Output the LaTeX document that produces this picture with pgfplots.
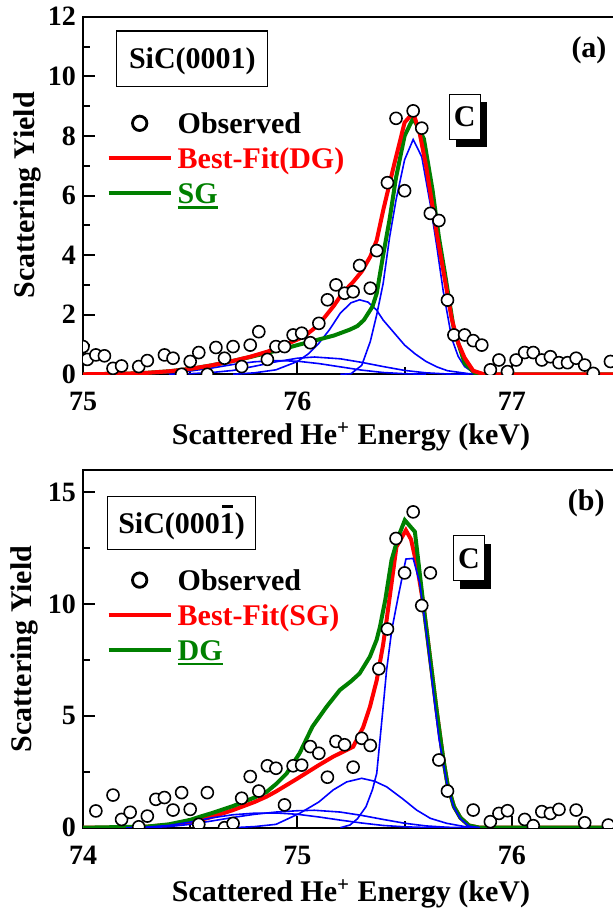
\documentclass[border=0pt]{standalone}
\usepackage{fontspec}
\setmainfont{Liberation Serif}
\usepackage{pgfplots}
\pgfplotsset{compat=1.18}
\usetikzlibrary{shadows}

\definecolor{sgreen}{RGB}{0,128,0}
\definecolor{fblue}{RGB}{0,0,255}

% thick underline and bar-over-one, as in the original figure
\newcommand\ul[1]{\setbox0\hbox{#1}\rlap{\rule[-2.6bp]{\wd0}{1.3bp}}\box0}
\newcommand\barone{\rlap{\hspace{1.2bp}\raisebox{12.6bp}{\rule{5.2bp}{1.2bp}}}1}

\tikzset{
  lbl/.style={font=\fontsize{15bp}{18bp}\selectfont\bfseries},
  samplebox/.style={lbl, draw, line width=0.6bp, fill=white, inner sep=0pt,
    text height=12bp, text depth=2bp},
  peakbox/.style={samplebox, minimum width=15.5bp, minimum height=22.5bp,
    drop shadow={shadow xshift=3.5bp, shadow yshift=-4bp, fill=black, opacity=1}},
}

\pgfplotsset{
  panel/.style={
    scale only axis, width=268bp, height=178.8bp,
    axis line style={line width=1.1bp},
    tick style={black, line width=1bp},
    major tick length=6bp, minor tick length=3.5bp,
    tick align=inside, tick pos=left,
    minor x tick num=1, minor y tick num=1,
    /pgf/number format/assume math mode=true,
    tick label style={font=\fontsize{14bp}{16bp}\selectfont\bfseries},
    xticklabel style={yshift=-5.5bp},
    label style={font=\fontsize{15bp}{18bp}\selectfont\bfseries},
    ylabel={Scattering Yield},
    xlabel={Scattered He\textsuperscript{+} Energy (keV)},
    clip marker paths=true,
    legend cell align=left,
    legend image code/.code={\draw[mark repeat=2,mark phase=2,##1]
      plot coordinates {(0bp,0bp) (15.5bp,0bp) (31bp,0bp)};},
    legend style={draw=none, fill=none, inner sep=0pt, outer sep=0pt,
      row sep=1.5bp, column sep=2.5bp,
      font=\fontsize{15bp}{18bp}\selectfont\bfseries,
      nodes={inner sep=0pt, text height=13bp, text depth=3bp}},
  },
  obs/.style={only marks, mark=*, mark size=3bp,
    mark options={fill=white, draw=black, line width=0.8bp}},
  obsleg/.style={only marks, mark=*, mark size=3.6bp,
    mark options={fill=white, draw=black, line width=1.4bp}},
  fit/.style={line width=2bp, no markers},
  comp/.style={fblue, line width=0.8bp, no markers},
}

\begin{document}
\begin{tikzpicture}

% ---------------- (a) SiC(0001) ----------------
\begin{axis}[panel,
    at={(0,0)}, anchor=south west,
    xmin=75, xmax=77.5, ymin=0, ymax=12,
    xtick={75,76,77}, ytick={0,2,...,12},
    xlabel style={at={(axis description cs:0.5,-0.1745)}, anchor=center},
    ylabel style={at={(axis description cs:-0.1045,0.5)}, anchor=center},
    legend style={at={(rel axis cs:0.0442,0.7466)}, anchor=north west},
  ]
  \addlegendimage{obsleg}
  \addlegendentry{Observed}
  \addlegendimage{red, line width=2bp}
  \addlegendentry{\textcolor{red}{Best-Fit(DG)}}
  \addlegendimage{sgreen, line width=2bp}
  \addlegendentry{\textcolor{sgreen}{\ul{SG}}}

  % components
  \addplot[comp, forget plot] coordinates {
    (75.20,0)(75.30,0.02)(75.40,0.05)(75.50,0.11)(75.60,0.21)(75.70,0.33)
    (75.80,0.42)(75.90,0.46)(76.00,0.44)(76.10,0.36)(76.20,0.25)(76.30,0.14)
    (76.40,0.06)(76.50,0.02)(76.60,0)};
  \addplot[comp, forget plot] coordinates {
    (75.40,0)(75.50,0.02)(75.60,0.06)(75.70,0.13)(75.80,0.27)(75.90,0.42)
    (76.00,0.54)(76.08,0.58)(76.20,0.52)(76.30,0.40)(76.40,0.26)(76.50,0.13)
    (76.60,0.05)(76.70,0.01)(76.80,0)};
  \addplot[comp, forget plot] coordinates {
    (75.70,0)(75.80,0.05)(75.90,0.15)(76.00,0.43)(76.05,0.68)(76.10,1.04)
    (76.15,1.50)(76.20,2.05)(76.25,2.40)(76.29,2.50)(76.33,2.42)(76.37,2.15)
    (76.40,1.82)(76.45,1.40)(76.50,0.98)(76.55,0.68)(76.60,0.43)(76.65,0.25)
    (76.70,0.12)(76.80,0.02)(76.90,0)};
  \addplot[comp, forget plot] coordinates {
    (76.20,0)(76.25,0.02)(76.30,0.30)(76.34,1.10)(76.37,2.00)(76.40,3.05)
    (76.43,4.60)(76.46,5.85)(76.50,7.20)(76.54,7.88)(76.58,7.30)(76.62,5.70)
    (76.65,4.30)(76.68,2.80)(76.72,1.20)(76.75,0.60)(76.78,0.26)(76.82,0.06)
    (76.90,0)};

  % SG
  \addplot[fit, sgreen, forget plot] coordinates {
    (75.00,0)(75.20,0.02)(75.30,0.05)(75.40,0.10)(75.50,0.18)(75.60,0.30)
    (75.70,0.45)(75.78,0.58)(75.86,0.72)(75.93,0.84)(76.00,0.98)(76.09,1.15)
    (76.17,1.30)(76.245,1.50)(76.28,1.62)(76.31,1.82)(76.35,2.27)(76.37,2.72)
    (76.40,4.00)(76.43,5.20)(76.46,6.60)(76.50,8.00)(76.54,8.60)(76.59,7.90)
    (76.63,6.20)(76.66,4.60)(76.69,3.30)(76.73,1.50)(76.78,0.37)(76.83,0.03)
    (76.88,0)(77.50,0)};
  % Best-Fit (DG)
  \addplot[fit, red, forget plot] coordinates {
    (75.00,0)(75.20,0.02)(75.30,0.05)(75.40,0.10)(75.50,0.18)(75.60,0.30)
    (75.70,0.45)(75.78,0.59)(75.86,0.76)(75.93,0.95)(76.03,1.26)(76.08,1.55)
    (76.12,1.85)(76.17,2.30)(76.21,2.72)(76.26,3.10)(76.30,3.45)(76.34,3.95)
    (76.37,4.50)(76.40,5.50)(76.45,7.00)(76.50,8.45)(76.54,8.78)(76.57,8.10)
    (76.60,7.00)(76.62,6.10)(76.65,4.73)(76.68,3.50)(76.72,1.85)(76.75,1.05)
    (76.78,0.55)(76.82,0.12)(76.87,0)(77.50,0)};

  % observed
  \addplot[obs, forget plot] coordinates {
    (75.00,0.93)(75.02,0.50)(75.06,0.65)(75.10,0.62)(75.14,0.20)(75.18,0.28)
    (75.26,0.26)(75.30,0.46)(75.38,0.65)(75.42,0.54)(75.46,0.00)(75.50,0.43)
    (75.54,0.73)(75.58,0.00)(75.62,0.90)(75.66,0.54)(75.70,0.93)(75.74,0.26)
    (75.78,0.98)(75.82,1.43)(75.86,0.50)(75.90,0.93)(75.94,0.93)(75.98,1.32)
    (76.02,1.38)(76.06,1.06)(76.10,1.71)(76.14,2.50)(76.18,3.00)(76.22,2.72)
    (76.26,2.77)(76.29,3.65)(76.34,2.89)(76.37,4.15)(76.42,6.43)(76.46,8.59)
    (76.50,6.16)(76.54,8.84)(76.58,8.26)(76.62,5.40)(76.66,5.16)(76.70,2.49)
    (76.73,1.32)(76.78,1.32)(76.82,1.13)(76.86,0.98)(76.90,0.15)(76.94,0.48)
    (76.98,0.09)(77.02,0.48)(77.06,0.73)(77.10,0.73)(77.14,0.48)(77.18,0.59)
    (77.22,0.39)(77.26,0.39)(77.30,0.54)(77.34,0.31)(77.38,0.03)(77.46,0.43)};

  \node[samplebox, minimum width=75.5bp, minimum height=27.8bp]
    at (axis cs:75.51,10.59) {SiC(0001)};
  \node[peakbox] at (axis cs:76.78,8.64) {C};
  \node[lbl] at (axis cs:77.36,10.88) {(a)};
\end{axis}

% ---------------- (b) SiC(000-1) ----------------
\begin{axis}[panel,
    at={(0,-226.7bp)}, anchor=south west,
    xmin=74, xmax=76.5, ymin=0, ymax=16,
    xtick={74,75,76}, ytick={0,5,10,15},
    xlabel style={at={(axis description cs:0.5,-0.185)}, anchor=center},
    ylabel style={at={(axis description cs:-0.109,0.5)}, anchor=center},
    legend style={at={(rel axis cs:0.0442,0.7371)}, anchor=north west},
  ]
  \addlegendimage{obsleg}
  \addlegendentry{Observed}
  \addlegendimage{red, line width=2bp}
  \addlegendentry{\textcolor{red}{Best-Fit(SG)}}
  \addlegendimage{sgreen, line width=2bp}
  \addlegendentry{\textcolor{sgreen}{\ul{DG}}}

  % Best-Fit (SG)
  \addplot[fit, red, forget plot] coordinates {
    (74.00,0)(74.20,0.01)(74.30,0.05)(74.40,0.13)(74.50,0.25)(74.545,0.34)
    (74.60,0.48)(74.70,0.79)(74.80,1.15)(74.856,1.39)(74.90,1.62)(75.00,2.20)
    (75.10,2.80)(75.167,3.18)(75.26,3.62)(75.307,4.50)(75.338,5.40)(75.37,6.60)
    (75.40,8.20)(75.416,9.29)(75.44,11.00)(75.462,12.57)(75.506,13.31)
    (75.53,12.90)(75.56,11.60)(75.587,10.03)(75.626,7.05)(75.65,5.20)
    (75.68,3.10)(75.70,1.95)(75.73,0.95)(75.76,0.45)(75.80,0.10)(75.85,0)
    (76.50,0)};
  % DG
  \addplot[fit, sgreen, forget plot] coordinates {
    (74.00,0)(74.30,0.05)(74.40,0.15)(74.50,0.35)(74.545,0.49)(74.60,0.65)
    (74.70,0.97)(74.80,1.35)(74.856,1.60)(74.90,1.95)(74.95,2.43)(75.01,3.33)
    (75.07,4.52)(75.136,5.41)(75.198,6.16)(75.25,6.55)(75.29,6.90)(75.338,7.65)
    (75.369,8.39)(75.385,8.99)(75.41,10.20)(75.439,11.97)(75.47,13.00)
    (75.501,13.76)(75.548,13.24)(75.587,10.03)(75.626,7.05)(75.65,5.20)
    (75.68,3.10)(75.70,1.95)(75.73,0.95)(75.76,0.45)(75.80,0.10)(75.85,0)
    (76.50,0)};

  % components
  \addplot[comp, forget plot] coordinates {
    (74.20,0)(74.30,0.03)(74.40,0.10)(74.50,0.25)(74.60,0.44)(74.70,0.58)
    (74.80,0.65)(74.90,0.66)(75.00,0.60)(75.10,0.48)(75.20,0.34)(75.30,0.21)
    (75.40,0.10)(75.50,0.04)(75.60,0.01)(75.70,0)};
  \addplot[comp, forget plot] coordinates {
    (74.30,0)(74.40,0.05)(74.50,0.15)(74.60,0.30)(74.70,0.46)(74.80,0.60)
    (74.90,0.70)(75.00,0.76)(75.08,0.78)(75.20,0.70)(75.30,0.55)(75.40,0.37)
    (75.50,0.20)(75.60,0.08)(75.70,0.02)(75.80,0)};
  \addplot[comp, forget plot] coordinates {
    (74.70,0)(74.80,0.05)(74.90,0.15)(75.01,0.64)(75.10,1.15)(75.167,1.69)
    (75.23,2.05)(75.30,2.21)(75.36,2.08)(75.416,1.83)(75.49,1.30)(75.556,0.79)
    (75.62,0.42)(75.695,0.20)(75.78,0.05)(75.85,0)};
  \addplot[comp, forget plot] coordinates {
    (75.20,0)(75.245,0.12)(75.28,0.40)(75.32,0.94)(75.35,1.70)(75.37,2.43)
    (75.40,5.41)(75.416,7.05)(75.44,8.84)(75.47,10.33)(75.506,12.02)
    (75.54,12.05)(75.571,10.93)(75.60,8.84)(75.63,6.40)(75.66,4.00)
    (75.70,1.85)(75.73,0.90)(75.76,0.40)(75.80,0.07)(75.85,0)};

  % observed
  \addplot[obs, forget plot] coordinates {
    (74.06,0.75)(74.14,1.46)(74.18,0.37)(74.22,0.69)(74.26,0.04)(74.30,0.52)
    (74.34,1.27)(74.38,1.35)(74.42,0.79)(74.46,1.57)(74.50,0.82)(74.54,0.15)
    (74.58,1.57)(74.66,0.00)(74.70,0.19)(74.74,1.32)(74.78,2.29)(74.82,1.64)
    (74.86,2.77)(74.90,2.66)(74.94,1.02)(74.98,2.77)(75.02,2.80)(75.06,3.63)
    (75.10,3.33)(75.14,2.26)(75.18,3.86)(75.22,3.71)(75.26,2.71)(75.30,4.00)
    (75.34,3.68)(75.38,7.11)(75.42,8.89)(75.46,12.94)(75.50,11.40)(75.54,14.13)
    (75.58,9.94)(75.62,11.40)(75.66,3.03)(75.70,1.64)(75.82,0.79)(75.90,0.27)
    (75.94,0.64)(75.98,0.76)(76.06,0.37)(76.10,0.09)(76.14,0.72)(76.18,0.64)
    (76.22,0.82)(76.30,0.79)(76.34,0.22)(76.45,0.12)};

  \node[samplebox, minimum width=74bp, minimum height=26.3bp]
    at (axis cs:74.46,13.63) {SiC(000\barone)};
  \node[peakbox] at (axis cs:75.80,12.05) {C};
  \node[lbl] at (axis cs:76.347,14.51) {(b)};
\end{axis}

\pgfresetboundingbox
\useasboundingbox (-41.5bp,-269.35bp) rectangle (265bp,187.15bp);
\end{tikzpicture}
\end{document}
